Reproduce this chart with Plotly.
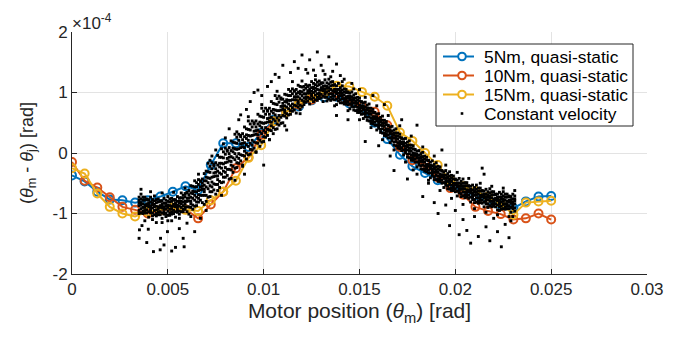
import plotly.graph_objects as go

# ---------------- data (deflection in units of 1e-4 rad) ----------------
positions = [0, 0.00066, 0.00132, 0.00197, 0.00263, 0.00329, 0.00395, 0.00461, 0.00526, 0.00592,
             0.00658, 0.00724, 0.00789, 0.00855, 0.00921, 0.00987, 0.01053, 0.01118, 0.01184, 0.0125,
             0.01316, 0.01382, 0.01447, 0.01513, 0.01579, 0.01645, 0.01711, 0.01776, 0.01842, 0.01908,
             0.01974, 0.0204, 0.02105, 0.02171, 0.02237, 0.02303, 0.02368, 0.02434, 0.025]

nm5 = [-0.37, -0.47, -0.64, -0.77, -0.78, -0.82, -0.78, -0.72, -0.64, -0.55,
       -0.61, -0.20, 0.16, 0.16, 0.10, 0.33, 0.55, 0.68, 0.77, 0.87,
       0.92, 0.93, 0.82, 0.72, 0.50, 0.23, -0.03, -0.22, -0.33, -0.45,
       -0.55, -0.62, -0.70, -0.78, -0.85, -0.91, -0.80, -0.72, -0.71]

nm10 = [-0.15, -0.46, -0.57, -0.73, -0.89, -0.94, -1.00, -0.95, -0.92, -0.93,
        -1.08, -0.85, -0.64, -0.25, -0.07, 0.30, 0.52, 0.68, 0.80, 0.88,
        0.99, 0.99, 0.85, 0.77, 0.68, 0.46, 0.10, -0.12, -0.17, -0.40,
        -0.58, -0.69, -0.89, -0.96, -1.01, -1.10, -1.08, -1.00, -1.10]

nm15 = [-0.25, -0.34, -0.67, -0.89, -1.00, -1.05, -0.97, -0.94, -0.90, -0.94,
        -0.96, -0.78, -0.64, -0.46, -0.08, 0.13, 0.52, 0.68, 0.82, 0.92,
        1.00, 1.11, 1.10, 1.01, 0.93, 0.78, 0.34, 0.20, 0.00, -0.20,
        -0.45, -0.55, -0.63, -0.72, -0.83, -1.02, -0.82, -0.80, -0.79]

# constant-velocity cloud: each row = [motor position, deflection samples...]
cv_rows = [
    [0.0035, -0.95, -0.82, -0.87, -0.73, -0.78, -1.00], [0.0036, -0.92, -0.76, -0.86, -0.99, -0.82, -0.68],
    [0.0037, -0.78, -1.00, -0.84, -0.90, -0.73, -0.96], [0.0038, -0.86, -0.95, -0.73, -0.90, -0.78, -0.99],
    [0.0039, -0.99, -0.87, -0.77, -0.94, -0.84, -0.76], [0.0040, -0.77, -0.89, -0.97, -0.82, -1.06, -0.86],
    [0.0041, -0.91, -0.81, -0.99, -0.73, -0.95, -0.87], [0.0042, -0.99, -0.86, -0.91, -0.77, -0.82, -1.04],
    [0.0043, -0.95, -0.79, -0.89, -1.02, -0.85, -0.71], [0.0044, -0.82, -1.04, -0.88, -0.94, -0.77, -1.00],
    [0.0045, -0.89, -0.98, -0.76, -0.93, -0.81, -1.02], [0.0046, -1.02, -0.90, -0.80, -0.97, -0.87, -0.79],
    [0.0047, -0.79, -0.91, -0.99, -0.84, -1.08, -0.88], [0.0048, -0.93, -0.83, -1.01, -0.75, -0.97, -0.89],
    [0.0049, -1.00, -0.87, -0.92, -0.78, -0.83, -1.05], [0.0050, -0.96, -0.80, -0.90, -1.03, -0.86, -0.72],
    [0.0051, -0.81, -1.03, -0.87, -0.93, -0.76, -0.99], [0.0052, -0.88, -0.97, -0.75, -0.92, -0.80, -1.01],
    [0.0053, -1.00, -0.88, -0.78, -0.95, -0.85, -0.77], [0.0054, -0.77, -0.89, -0.97, -0.82, -1.06, -0.86],
    [0.0055, -0.90, -0.80, -0.98, -0.72, -0.94, -0.86], [0.0056, -0.96, -0.83, -0.88, -0.74, -0.79, -1.01],
    [0.0057, -0.90, -0.74, -0.84, -0.97, -0.80, -0.66], [0.0058, -0.75, -0.97, -0.81, -0.87, -0.70, -0.93],
    [0.0059, -0.80, -0.89, -0.67, -0.84, -0.72, -0.93], [0.0060, -0.97, -0.80, -0.66, -0.89, -0.75, -0.65],
    [0.0061, -0.62, -0.79, -0.89, -0.69, -1.01, -0.74], [0.0062, -0.80, -0.66, -0.90, -0.54, -0.84, -0.73],
    [0.0063, -0.86, -0.67, -0.75, -0.55, -0.63, -0.93], [0.0064, -0.78, -0.56, -0.70, -0.88, -0.64, -0.46],
    [0.0065, -0.56, -0.87, -0.64, -0.73, -0.49, -0.81], [0.0066, -0.62, -0.75, -0.44, -0.69, -0.52, -0.81],
    [0.0067, -0.78, -0.61, -0.47, -0.70, -0.56, -0.46], [0.0068, -0.43, -0.60, -0.70, -0.50, -0.82, -0.55],
    [0.0069, -0.60, -0.46, -0.70, -0.34, -0.64, -0.53], [0.0070, -0.70, -0.46, -0.56, -0.30, -0.40, -0.80],
    [0.0071, -0.59, -0.31, -0.49, -0.73, -0.41, -0.17], [0.0072, -0.32, -0.72, -0.42, -0.54, -0.22, -0.64],
    [0.0073, -0.40, -0.56, -0.16, -0.48, -0.26, -0.64], [0.0074, -0.61, -0.39, -0.21, -0.51, -0.33, -0.19],
    [0.0075, -0.16, -0.38, -0.52, -0.26, -0.68, -0.32], [0.0076, -0.38, -0.20, -0.52, -0.04, -0.44, -0.30],
    [0.0077, -0.47, -0.23, -0.33, -0.07, -0.17, -0.57], [0.0078, -0.35, -0.07, -0.25, -0.49, -0.17, 0.07],
    [0.0079, -0.08, -0.48, -0.18, -0.30, 0.02, -0.40], [0.0080, -0.16, -0.32, 0.08, -0.24, -0.02, -0.40],
    [0.0081, -0.37, -0.15, 0.03, -0.27, -0.09, 0.05], [0.0082, 0.09, -0.13, -0.27, -0.01, -0.43, -0.07],
    [0.0083, -0.14, 0.04, -0.28, 0.20, -0.20, -0.06], [0.0084, -0.22, 0.02, -0.08, 0.18, 0.08, -0.32],
    [0.0085, -0.11, 0.17, -0.01, -0.25, 0.07, 0.31], [0.0086, 0.16, -0.24, 0.06, -0.06, 0.26, -0.16],
    [0.0087, 0.07, -0.09, 0.31, -0.01, 0.21, -0.17], [0.0088, -0.13, 0.09, 0.27, -0.03, 0.15, 0.29],
    [0.0089, 0.32, 0.10, -0.04, 0.22, -0.20, 0.16], [0.0090, 0.09, 0.27, -0.05, 0.43, 0.03, 0.17],
    [0.0091, 0.00, 0.24, 0.14, 0.40, 0.30, -0.10], [0.0092, 0.11, 0.39, 0.21, -0.03, 0.29, 0.53],
    [0.0093, 0.38, -0.02, 0.28, 0.16, 0.48, 0.06], [0.0094, 0.29, 0.13, 0.53, 0.21, 0.43, 0.05],
    [0.0095, 0.08, 0.30, 0.48, 0.18, 0.36, 0.50], [0.0096, 0.53, 0.31, 0.17, 0.43, 0.01, 0.37],
    [0.0097, 0.30, 0.48, 0.16, 0.64, 0.24, 0.38], [0.0098, 0.21, 0.45, 0.35, 0.61, 0.51, 0.11],
    [0.0099, 0.32, 0.60, 0.42, 0.18, 0.50, 0.74], [0.0100, 0.59, 0.19, 0.49, 0.37, 0.69, 0.27],
    [0.0101, 0.50, 0.34, 0.74, 0.42, 0.64, 0.26], [0.0102, 0.29, 0.51, 0.69, 0.39, 0.57, 0.71],
    [0.0103, 0.74, 0.52, 0.38, 0.64, 0.22, 0.58], [0.0104, 0.51, 0.69, 0.37, 0.85, 0.45, 0.59],
    [0.0105, 0.42, 0.66, 0.56, 0.82, 0.72, 0.32], [0.0106, 0.53, 0.81, 0.63, 0.39, 0.71, 0.95],
    [0.0107, 0.80, 0.40, 0.70, 0.58, 0.90, 0.48], [0.0108, 0.70, 0.54, 0.94, 0.62, 0.84, 0.46],
    [0.0109, 0.49, 0.71, 0.89, 0.59, 0.77, 0.91], [0.0110, 0.89, 0.72, 0.62, 0.82, 0.50, 0.77],
    [0.0111, 0.71, 0.85, 0.61, 0.97, 0.67, 0.78], [0.0112, 0.65, 0.84, 0.76, 0.96, 0.88, 0.58],
    [0.0113, 0.73, 0.95, 0.81, 0.63, 0.87, 1.05], [0.0114, 0.95, 0.64, 0.87, 0.78, 1.02, 0.70],
    [0.0115, 0.88, 0.75, 1.06, 0.81, 0.98, 0.69], [0.0116, 0.71, 0.88, 1.02, 0.79, 0.93, 1.03],
    [0.0117, 1.05, 0.88, 0.78, 0.98, 0.66, 0.93], [0.0118, 0.86, 1.00, 0.76, 1.12, 0.82, 0.93],
    [0.0119, 0.79, 0.98, 0.90, 1.10, 1.02, 0.72], [0.0120, 0.87, 1.09, 0.95, 0.77, 1.01, 1.19],
    [0.0121, 1.04, 0.80, 0.98, 0.91, 1.10, 0.85], [0.0122, 0.98, 0.89, 1.13, 0.93, 1.07, 0.84],
    [0.0123, 0.86, 0.99, 1.10, 0.92, 1.03, 1.11], [0.0124, 1.12, 0.99, 0.90, 1.06, 0.81, 1.02],
    [0.0125, 0.97, 1.08, 0.89, 1.18, 0.94, 1.02], [0.0126, 0.91, 1.06, 1.00, 1.15, 1.09, 0.85],
    [0.0127, 0.96, 1.13, 1.02, 0.88, 1.07, 1.21], [0.0128, 1.11, 0.87, 1.05, 0.98, 1.17, 0.92],
    [0.0129, 1.04, 0.95, 1.19, 0.99, 1.13, 0.90], [0.0130, 0.91, 1.04, 1.15, 0.97, 1.08, 1.16],
    [0.0131, 1.16, 1.03, 0.94, 1.10, 0.85, 1.06], [0.0132, 1.00, 1.11, 0.92, 1.21, 0.97, 1.05],
    [0.0133, 0.92, 1.07, 1.01, 1.16, 1.10, 0.86], [0.0134, 0.97, 1.14, 1.03, 0.89, 1.08, 1.22],
    [0.0135, 1.11, 0.87, 1.05, 0.98, 1.17, 0.92], [0.0136, 1.03, 0.94, 1.18, 0.98, 1.12, 0.89],
    [0.0137, 0.88, 1.01, 1.12, 0.94, 1.05, 1.13], [0.0138, 1.11, 0.98, 0.89, 1.05, 0.80, 1.01],
    [0.0139, 0.94, 1.05, 0.86, 1.15, 0.91, 0.99], [0.0140, 0.88, 1.00, 0.95, 1.08, 1.03, 0.83],
    [0.0141, 0.90, 1.04, 0.95, 0.83, 0.99, 1.11], [0.0142, 1.01, 0.81, 0.96, 0.90, 1.06, 0.85],
    [0.0143, 0.93, 0.85, 1.05, 0.89, 1.00, 0.81], [0.0144, 0.80, 0.91, 1.00, 0.85, 0.94, 1.01],
    [0.0145, 0.99, 0.88, 0.81, 0.94, 0.73, 0.91], [0.0146, 0.84, 0.93, 0.77, 1.01, 0.81, 0.88],
    [0.0147, 0.76, 0.88, 0.83, 0.96, 0.91, 0.71], [0.0148, 0.77, 0.91, 0.82, 0.70, 0.86, 0.98],
    [0.0149, 0.87, 0.67, 0.82, 0.76, 0.92, 0.71], [0.0150, 0.79, 0.71, 0.91, 0.75, 0.86, 0.67],
    [0.0151, 0.64, 0.75, 0.84, 0.69, 0.78, 0.85], [0.0152, 0.83, 0.72, 0.65, 0.78, 0.57, 0.75],
    [0.0153, 0.67, 0.76, 0.60, 0.84, 0.64, 0.71], [0.0154, 0.59, 0.71, 0.66, 0.79, 0.74, 0.54],
    [0.0155, 0.60, 0.74, 0.65, 0.53, 0.69, 0.81], [0.0156, 0.69, 0.49, 0.64, 0.58, 0.74, 0.53],
    [0.0157, 0.60, 0.52, 0.72, 0.56, 0.67, 0.48], [0.0158, 0.46, 0.57, 0.66, 0.51, 0.60, 0.67],
    [0.0159, 0.64, 0.53, 0.46, 0.59, 0.38, 0.56], [0.0160, 0.48, 0.57, 0.41, 0.65, 0.45, 0.52],
    [0.0161, 0.39, 0.51, 0.46, 0.59, 0.54, 0.34], [0.0162, 0.40, 0.54, 0.45, 0.33, 0.49, 0.61],
    [0.0163, 0.49, 0.29, 0.44, 0.38, 0.54, 0.33], [0.0164, 0.40, 0.32, 0.52, 0.36, 0.47, 0.28],
    [0.0165, 0.25, 0.36, 0.45, 0.30, 0.39, 0.46], [0.0166, 0.43, 0.32, 0.25, 0.38, 0.17, 0.35],
    [0.0167, 0.27, 0.36, 0.20, 0.44, 0.24, 0.31], [0.0168, 0.18, 0.30, 0.25, 0.38, 0.33, 0.13],
    [0.0169, 0.19, 0.33, 0.24, 0.12, 0.28, 0.40], [0.0170, 0.28, 0.08, 0.23, 0.17, 0.33, 0.12],
    [0.0171, 0.19, 0.11, 0.31, 0.15, 0.26, 0.07], [0.0172, 0.04, 0.15, 0.24, 0.09, 0.18, 0.25],
    [0.0173, 0.23, 0.12, 0.05, 0.18, -0.03, 0.15], [0.0174, 0.07, 0.16, 0.00, 0.24, 0.04, 0.11],
    [0.0175, -0.02, 0.10, 0.05, 0.18, 0.13, -0.07], [0.0176, -0.01, 0.13, 0.04, -0.08, 0.08, 0.20],
    [0.0177, 0.08, -0.12, 0.03, -0.03, 0.13, -0.08], [0.0178, 0.00, -0.08, 0.12, -0.04, 0.07, -0.12],
    [0.0179, -0.15, -0.04, 0.05, -0.10, -0.01, 0.06], [0.0180, 0.03, -0.08, -0.15, -0.02, -0.23, -0.05],
    [0.0181, -0.13, -0.04, -0.20, 0.04, -0.16, -0.09], [0.0182, -0.21, -0.09, -0.14, -0.01, -0.06, -0.26],
    [0.0183, -0.20, -0.06, -0.15, -0.27, -0.11, 0.01], [0.0184, -0.10, -0.30, -0.15, -0.21, -0.05, -0.26],
    [0.0185, -0.19, -0.27, -0.07, -0.23, -0.12, -0.31], [0.0186, -0.33, -0.22, -0.13, -0.28, -0.19, -0.12],
    [0.0187, -0.15, -0.26, -0.33, -0.20, -0.41, -0.23], [0.0188, -0.30, -0.21, -0.37, -0.13, -0.33, -0.26],
    [0.0189, -0.39, -0.27, -0.32, -0.19, -0.24, -0.44], [0.0190, -0.37, -0.23, -0.32, -0.44, -0.28, -0.16],
    [0.0191, -0.27, -0.47, -0.32, -0.38, -0.22, -0.43], [0.0192, -0.35, -0.43, -0.23, -0.39, -0.28, -0.47],
    [0.0193, -0.50, -0.39, -0.30, -0.45, -0.36, -0.29], [0.0194, -0.31, -0.42, -0.49, -0.36, -0.57, -0.39],
    [0.0195, -0.46, -0.37, -0.53, -0.29, -0.49, -0.42], [0.0196, -0.54, -0.42, -0.47, -0.34, -0.39, -0.59],
    [0.0197, -0.52, -0.38, -0.47, -0.59, -0.43, -0.31], [0.0198, -0.42, -0.62, -0.47, -0.53, -0.37, -0.58],
    [0.0199, -0.50, -0.58, -0.38, -0.54, -0.43, -0.62], [0.0200, -0.64, -0.53, -0.44, -0.59, -0.50, -0.43],
    [0.0201, -0.45, -0.56, -0.63, -0.50, -0.71, -0.53], [0.0202, -0.59, -0.50, -0.66, -0.42, -0.62, -0.55],
    [0.0203, -0.67, -0.55, -0.60, -0.47, -0.52, -0.72], [0.0204, -0.64, -0.50, -0.59, -0.71, -0.55, -0.43],
    [0.0205, -0.54, -0.74, -0.59, -0.65, -0.49, -0.70], [0.0206, -0.61, -0.69, -0.49, -0.65, -0.54, -0.73],
    [0.0207, -0.75, -0.64, -0.55, -0.70, -0.61, -0.54], [0.0208, -0.55, -0.66, -0.73, -0.60, -0.81, -0.63],
    [0.0209, -0.70, -0.61, -0.77, -0.53, -0.73, -0.66], [0.0210, -0.77, -0.65, -0.70, -0.57, -0.62, -0.82],
    [0.0211, -0.74, -0.60, -0.69, -0.81, -0.65, -0.53], [0.0212, -0.63, -0.83, -0.68, -0.74, -0.58, -0.79],
    [0.0213, -0.70, -0.78, -0.58, -0.74, -0.63, -0.82], [0.0214, -0.83, -0.72, -0.63, -0.78, -0.69, -0.62],
    [0.0215, -0.63, -0.74, -0.81, -0.68, -0.89, -0.71], [0.0216, -0.77, -0.68, -0.84, -0.60, -0.80, -0.73],
    [0.0217, -0.84, -0.72, -0.77, -0.64, -0.69, -0.89], [0.0218, -0.80, -0.66, -0.75, -0.87, -0.71, -0.59],
    [0.0219, -0.69, -0.89, -0.74, -0.80, -0.64, -0.85], [0.0220, -0.76, -0.84, -0.64, -0.80, -0.69, -0.88],
    [0.0221, -0.89, -0.78, -0.69, -0.84, -0.75, -0.68], [0.0222, -0.68, -0.79, -0.86, -0.73, -0.94, -0.76],
    [0.0223, -0.82, -0.73, -0.89, -0.65, -0.85, -0.78], [0.0224, -0.88, -0.76, -0.81, -0.68, -0.73, -0.93],
    [0.0225, -0.85, -0.71, -0.80, -0.92, -0.76, -0.64], [0.0226, -0.73, -0.93, -0.78, -0.84, -0.68, -0.89],
    [0.0227, -0.80, -0.88, -0.68, -0.84, -0.73, -0.92], [0.0228, -0.92, -0.81, -0.72, -0.87, -0.78, -0.71],
    [0.0229, -0.72, -0.83, -0.90, -0.77, -0.98, -0.80], [0.0230, -0.85, -0.76, -0.92, -0.68, -0.88, -0.81],
    [0.0231, -0.91, -0.79, -0.84, -0.71, -0.76, -0.96],
]

# scattered constant-velocity samples away from the main band
cv_out_x = [0.00352, 0.00350, 0.00365, 0.00398, 0.00425, 0.00460, 0.00462, 0.00498, 0.00540, 0.00580,
            0.00420, 0.00470, 0.00520, 0.00600, 0.00585, 0.00520, 0.00480, 0.00640, 0.00670, 0.00390,
            0.00560, 0.0070, 0.0072, 0.0075, 0.0078, 0.0080, 0.0082, 0.0085, 0.0087, 0.0088,
            0.0090, 0.0091, 0.0093, 0.0095, 0.0097, 0.0099, 0.0100, 0.0102, 0.0104, 0.0106,
            0.0108, 0.0110, 0.0112, 0.0114, 0.0116, 0.0118, 0.0120, 0.0122, 0.0124, 0.0126,
            0.0128, 0.0130, 0.0132, 0.0134, 0.0136, 0.0138, 0.0140, 0.0142, 0.0144, 0.0146,
            0.0138, 0.0150, 0.0153, 0.0157, 0.0160, 0.0163, 0.0166, 0.0168, 0.0172, 0.0175,
            0.0178, 0.0180, 0.0183, 0.0186, 0.0189, 0.0191, 0.0193, 0.0195, 0.0197, 0.0200,
            0.0202, 0.0204, 0.0206, 0.0208, 0.0210, 0.0212, 0.0214, 0.0216, 0.0218, 0.0220,
            0.0222, 0.0224, 0.0226, 0.0228, 0.0230, 0.0215,
            0.0036, 0.0038, 0.0041, 0.0044, 0.0047, 0.0050, 0.0053, 0.0056, 0.0059, 0.0062,
            0.0066, 0.0069, 0.0073, 0.0076, 0.0079, 0.0083, 0.0086, 0.0089, 0.0092, 0.0096,
            0.0099, 0.0103, 0.0107, 0.0111, 0.0115, 0.0119, 0.0123, 0.0127, 0.0131, 0.0135,
            0.0137, 0.0141, 0.0144, 0.0147, 0.0150, 0.0153, 0.0156, 0.0159, 0.0162, 0.0165,
            0.0168, 0.0171, 0.0174, 0.0177, 0.0180, 0.0183, 0.0186, 0.0189, 0.0192, 0.0195,
            0.0198, 0.0201, 0.0204, 0.0207, 0.0210, 0.0213, 0.0216, 0.0219, 0.0222, 0.0225,
            0.0228, 0.0231, 0.0229, 0.0223, 0.0217]
cv_out_y = [-1.27, -1.41, -1.20, -1.26, -1.63, -1.60, -1.41, -1.30, -1.56, -1.41,
            -1.10, -1.15, -1.12, -1.16, -1.55, -1.62, -1.52, -1.30, -1.08, -1.48,
            -1.25, -0.95, -0.12, 0.05, -0.70, 0.25, 0.40, -0.45, 0.55, 0.63,
            -0.35, 0.72, 0.85, 1.00, 1.04, 0.95, -0.20, 1.10, 1.18, 1.30,
            1.25, 1.45, 0.38, 1.33, 1.51, 1.40, 1.62, 1.38, 1.54, 1.37,
            1.67, 1.45, 1.30, 1.59, 1.35, 1.47, 1.28, 1.22, 0.55, 1.15,
            0.62, 1.05, 0.19, 0.95, 0.12, 0.80, -0.05, -0.29, 0.55, -0.43,
            -0.28, 0.46, -0.72, -0.50, -0.82, -1.00, 0.05, -0.86, -1.20, -0.95,
            -1.35, -1.10, -1.28, -1.49, -1.05, -1.38, -0.25, -1.22, -1.45, -1.08,
            -1.30, -1.55, -1.18, -1.40, -1.05, -0.35,
            -0.60, -1.12, -0.64, -1.15, -0.66, -1.12, -0.65, -1.08, -0.58, -1.05,
            -0.35, -0.85, -0.05, -0.62, 0.15, -0.42, 0.35, -0.22, 0.60, 0.02,
            0.80, 0.22, 1.02, 0.45, 1.18, 0.65, 1.32, 1.28, 1.36, 1.26,
            0.78, 1.18, 0.70, 1.06, 0.55, 0.92, 0.42, 0.78, 0.22, 0.62,
            0.05, 0.45, -0.15, 0.28, -0.35, 0.10, -0.45, -0.05, -0.62, -0.20,
            -0.75, -0.32, -0.85, -0.42, -0.92, -0.50, -0.98, -0.55, -1.02, -0.58,
            -1.05, -0.62, -1.12, -0.95, -0.90]

x_ticks = [0, 0.005, 0.01, 0.015, 0.02, 0.025, 0.03]
x_tick_labels = ["0", "0.005", "0.01", "0.015", "0.02", "0.025", "0.03"]
y_ticks = [-2, -1, 0, 1, 2]
y_tick_labels = ["-2", "-1", "0", "1", "2"]

series_names = ["5Nm, quasi-static", "10Nm, quasi-static", "15Nm, quasi-static", "Constant velocity"]
series_colors = ["#0072BD", "#D95319", "#EDB120"]

# ---------------- figure ----------------
FONT = "Liberation Sans, Arial, Helvetica, sans-serif"
INK = "#262626"
fig = go.Figure()

for vals, name, col in zip([nm5, nm10, nm15], series_names[:3], series_colors):
    fig.add_trace(go.Scatter(
        x=positions, y=vals, name=name, mode="lines+markers", showlegend=False,
        line=dict(color=col, width=2),
        marker=dict(symbol="circle-open", size=8, color=col, line=dict(width=2, color=col)),
    ))

cv_x, cv_y = [], []
for row in cv_rows:
    for v in row[1:]:
        cv_x.append(row[0])
        cv_y.append(v)
cv_x += cv_out_x
cv_y += cv_out_y

fig.add_trace(go.Scatter(
    x=cv_x, y=cv_y, name=series_names[3], mode="markers", showlegend=False,
    marker=dict(symbol="square", size=2.9, color="black", line=dict(width=0)),
))

axis_common = dict(
    showgrid=True, gridcolor="#e3e3e3", gridwidth=1,
    showline=True, linecolor=INK, linewidth=1,
    ticks="inside", ticklen=5, tickcolor=INK, tickwidth=1,
    zeroline=False, mirror=False,
    tickfont=dict(family=FONT, size=17, color=INK),
)

fig.update_xaxes(
    range=[0, 0.03], tickvals=x_ticks, ticktext=x_tick_labels,
    title=dict(text="Motor position (<i>θ</i><sub>m</sub>) [rad]",
               font=dict(family=FONT, size=21, color=INK), standoff=3),
    **axis_common,
)
fig.update_yaxes(
    range=[-2, 2], tickvals=y_ticks, ticktext=y_tick_labels,
    title=dict(text="(<i>θ</i><sub>m</sub> - <i>θ</i><sub>j</sub>) [rad]",
               font=dict(family=FONT, size=18, color=INK), standoff=14),
    **axis_common,
)

fig.add_annotation(
    x=0, y=1, xref="paper", yref="paper", xanchor="left", yanchor="bottom",
    text="×10<sup>-4</sup>", showarrow=False, xshift=-2, yshift=-3,
    font=dict(family=FONT, size=17, color=INK),
)

# ---- legend box (drawn to match the compact reference legend) ----
PW, PH, PL, PB = 575.0, 242.0, 72.0, 274.0   # plot-area size / left / bottom in px
def px_x(p):
    return (p - PL) / PW
def px_y(p):
    return (PB - p) / PH

shapes = [dict(type="rect", xref="paper", yref="paper",
               x0=px_x(436), x1=px_x(633), y0=px_y(126), y1=px_y(44),
               line=dict(color=INK, width=1), fillcolor="white", layer="above")]
row_px = [56.5, 75.5, 94.5, 113.5]
for i, name in enumerate(series_names):
    yy = px_y(row_px[i])
    if i < 3:
        col = series_colors[i]
        shapes.append(dict(type="line", xref="paper", yref="paper",
                           x0=px_x(443), x1=px_x(474), y0=yy, y1=yy,
                           line=dict(color=col, width=2), layer="above"))
        shapes.append(dict(type="circle", xref="paper", yref="paper",
                           xsizemode="pixel", ysizemode="pixel",
                           xanchor=px_x(462), yanchor=yy, x0=-3.8, x1=3.8, y0=-3.8, y1=3.8,
                           line=dict(color=col, width=2), fillcolor="white", layer="above"))
    else:
        shapes.append(dict(type="rect", xref="paper", yref="paper",
                           xsizemode="pixel", ysizemode="pixel",
                           xanchor=px_x(462), yanchor=yy, x0=-1.3, x1=1.3, y0=-1.3, y1=1.3,
                           line=dict(width=0), fillcolor="black", layer="above"))
    fig.add_annotation(x=px_x(482), y=yy, xref="paper", yref="paper",
                       xanchor="left", yanchor="middle", text=name, showarrow=False,
                       font=dict(family=FONT, size=17.4, color="#000000"))

fig.update_layout(
    width=694, height=337,
    margin=dict(l=72, r=47, t=32, b=63),
    plot_bgcolor="white", paper_bgcolor="white",
    font=dict(family=FONT, size=17, color=INK),
    showlegend=False,
    shapes=shapes,
)

fig.write_html("out.html")
